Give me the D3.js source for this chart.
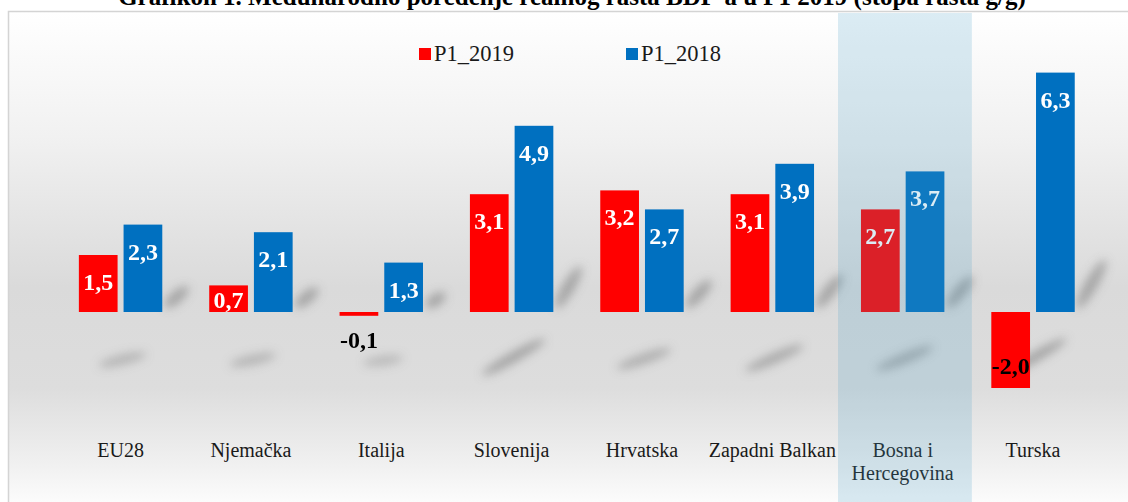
<!DOCTYPE html>
<html><head><meta charset="utf-8">
<script src="https://cdn.jsdelivr.net/npm/d3@7"></script>
<style>
html,body{margin:0;padding:0;background:#fff;}
svg{display:block;}
text{font-family:'Liberation Serif','Times New Roman',Times,'DejaVu Serif',serif;}
</style></head>
<body>
<script>
const title = "Grafikon 1. Međunarodno poređenje realnog rasta BDP-a u P1 2019 (stopa rasta g/g)";
const categories = ["EU28","Njemačka","Italija","Slovenija","Hrvatska","Zapadni Balkan","Bosna i\nHercegovina","Turska"];
const seriesNames = ["P1_2019","P1_2018"];
const p1_2019 = [1.5, 0.7, -0.1, 3.1, 3.2, 3.1, 2.7, -2.0];
const p1_2018 = [2.3, 2.1, 1.3, 4.9, 2.7, 3.9, 3.7, 6.3];
const highlightCategory = "Bosna i\nHercegovina";
const colors = {"P1_2019":"#ff0000","P1_2018":"#0070c0"};

const W = 1128, H = 502;
const svg = d3.select("body").append("svg").attr("width", W).attr("height", H);
const defs = svg.append("defs");

const bg = defs.append("linearGradient").attr("id","bg").attr("x1",0).attr("y1",0).attr("x2",0).attr("y2",1);
[[0,"#ffffff"],[0.25,"#f1f1f1"],[0.55,"#dadada"],[0.75,"#dddddd"],[0.9,"#f0f0f0"],[1,"#ffffff"]]
  .forEach(([o,c])=>bg.append("stop").attr("offset",o).attr("stop-color",c));
defs.append("filter").attr("id","blur").attr("x","-50%").attr("y","-50%").attr("width","200%").attr("height","200%")
  .append("feGaussianBlur").attr("stdDeviation",5);

svg.append("rect").attr("x",8.5).attr("y",11.5).attr("width",W).attr("height",H)
  .attr("fill","url(#bg)").attr("stroke","#d4d4d4").attr("stroke-width",1.5);

svg.append("text").attr("x",572).attr("y",5).attr("text-anchor","middle")
  .attr("font-weight","bold").attr("font-size",25).attr("fill","#000").text(title);

const x0 = d3.scaleBand().domain(categories).range([55.4,1098.2]).paddingInner(0.36).paddingOuter(0.18);
const x1 = d3.scaleBand().domain(seriesNames).range([0,x0.bandwidth()]).paddingInner(0.134);
const y = d3.scaleLinear().domain([-4,7]).range([312+152, 312-266]);

const rows = categories.map((c,i)=>({cat:c, vals:[{s:"P1_2019",v:p1_2019[i]},{s:"P1_2018",v:p1_2018[i]}]}));

// shadows
const shadow = svg.append("g").attr("filter","url(#blur)");
rows.forEach(r=>{
  const xb = x0(r.cat);
  const blueRight = xb + x1("P1_2018") + x1.bandwidth();
  const hmax = d3.max(r.vals, d=>Math.abs(d.v));
  const len = Math.min(14 + 7*hmax, 56);
  const ang = Math.min(25 + 7*hmax, 60);
  const a = ang*Math.PI/180;
  shadow.append("ellipse")
    .attr("cx",0).attr("cy",0).attr("rx",len/2).attr("ry",6)
    .attr("transform",`translate(${blueRight+4+len*0.45*Math.cos(a)},${y(0)-6-len*0.45*Math.sin(a)}) rotate(${-ang})`)
    .attr("fill","#7a7a7a").attr("opacity",0.55);
  const rx = 14 + 4.5*hmax, rot = -Math.min(6*hmax, 30);
  shadow.append("ellipse")
    .attr("cx",0).attr("cy",0).attr("rx",Math.min(rx,36)).attr("ry",5)
    .attr("transform",`translate(${xb + x0.bandwidth()/2 + 2},${y(0)+50 - Math.min(hmax,5)}) rotate(${rot})`)
    .attr("fill","#8a8a8a").attr("opacity",Math.min(0.3+0.08*hmax,0.7));
});

// bars
const g = svg.append("g").selectAll("g").data(rows).join("g")
  .attr("transform", d=>`translate(${x0(d.cat)},0)`);
g.selectAll("rect").data(d=>d.vals).join("rect")
  .attr("x", d=>x1(d.s)).attr("width", x1.bandwidth())
  .attr("y", d=>y(Math.max(0,d.v))).attr("height", d=>Math.abs(y(d.v)-y(0)))
  .attr("fill", d=>colors[d.s]);

// value labels
const fmt = v => d3.format(".1f")(v).replace(".",",").replace("−","-");
g.selectAll("text").data(d=>d.vals).join("text")
  .attr("x", d=>x1(d.s)+x1.bandwidth()/2)
  .attr("y", d=>{
    const top = y(Math.max(0,d.v)), bot = y(Math.min(0,d.v)), h = bot-top;
    if (d.v >= 0) return Math.min(top+35, bot-4);
    return h > 30 ? bot-14 : bot+32;
  })
  .attr("text-anchor","middle").attr("font-weight","bold").attr("font-size",24)
  .attr("fill", d=> d.v >= 0 ? "#ffffff" : "#000000")
  .text(d=>fmt(d.v));

// category labels
const labels = svg.append("g").selectAll("text").data(categories).join("text")
  .attr("x", d=>x0(d)+x0.bandwidth()/2).attr("y", 457)
  .attr("text-anchor","middle").attr("font-size",20).attr("fill","#1a1a1a");
labels.each(function(d){
  const parts = d.split("\n");
  d3.select(this).selectAll("tspan").data(parts).join("tspan")
    .attr("x", x0(d)+x0.bandwidth()/2).attr("dy",(p,i)=> i===0?0:23).text(p=>p);
});

// highlight band over BiH
svg.append("rect")
  .attr("x", x0(highlightCategory) - (x0.step()-x0.bandwidth())/2 + 0.5)
  .attr("width", x0.step() + 3.5)
  .attr("y", 13).attr("height", H-13)
  .attr("fill","#49a2c9").attr("opacity",0.2);

// legend
const leg = svg.append("g").selectAll("g").data(seriesNames).join("g")
  .attr("transform",(d,i)=>`translate(${419 + i*207},48)`);
leg.append("rect").attr("width",12).attr("height",12).attr("fill",d=>colors[d]);
leg.append("text").attr("x",15).attr("y",13).attr("font-size",22.5).attr("fill","#1a1a1a").text(d=>d);
</script>
</body></html>
